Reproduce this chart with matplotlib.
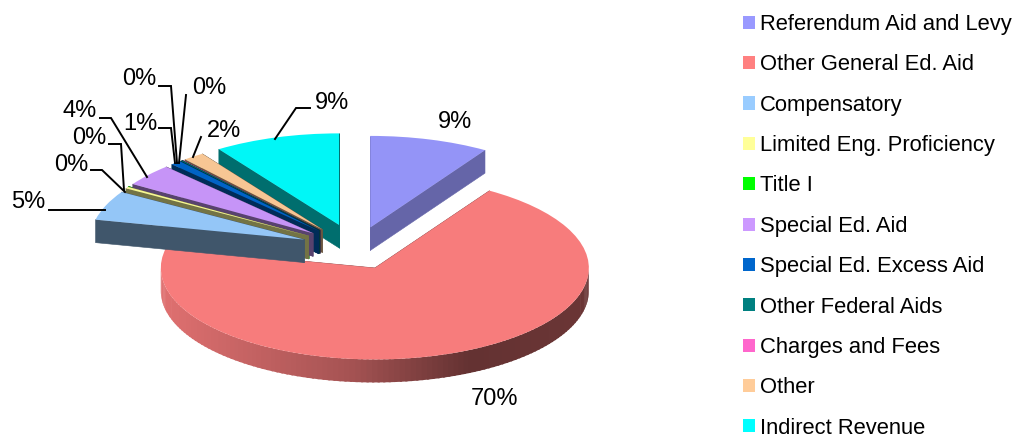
import numpy as np
import matplotlib
matplotlib.use("Agg")
import matplotlib.pyplot as plt
from matplotlib.colors import to_rgb
from matplotlib.patches import Patch, Polygon
from matplotlib.transforms import Affine2D

plt.rcParams["font.family"] = ["Liberation Sans", "DejaVu Sans"]

# Revenue sources and their share of the total, in percent
categories = ["Referendum Aid and Levy", "Other General Ed. Aid", "Compensatory",
              "Limited Eng. Proficiency", "Title I", "Special Ed. Aid",
              "Special Ed. Excess Aid", "Other Federal Aids", "Charges and Fees",
              "Other", "Indirect Revenue"]
shares = [9.0, 69.5, 5.2, 0.3, 0.05, 3.9, 0.8, 0.1, 0.05, 1.61, 9.49]
colors = ["#9999FF", "#FF8080", "#99CCFF", "#FFFF99", "#00FF00", "#CC99FF",
          "#0066CC", "#008080", "#FF66CC", "#FFCC99", "#00FFFF"]

# Slice drawing order, back to front
paint_order = [1, 0, 10, 9, 8, 7, 6, 4, 5, 3, 2]
explode = [0.24, 0.23, 0.26, 0.26, 0.26, 0.26, 0.26, 0.26, 0.26, 0.26, 0.27]
wall_shade = [0.66, 0.55, 0.42, 0.45, 0.45, 0.43, 0.43, 0.43, 0.43, 0.42, 0.43]

W, H = 1017, 436
CX, CY, RX, RY = 356.0, 248.5, 214.0, 91.5   # pie ellipse, pixels
DEPTH = 23.0
LABEL_FONT = 17
LEGEND_FONT = 15.85

fig = plt.figure(figsize=(W / 100, H / 100), dpi=100)
ax = fig.add_axes([0, 0, 1, 1])

face_colors = [tuple(c * 0.97 for c in to_rgb(col)) for col in colors]
wedges, _ = ax.pie(shares, colors=face_colors, startangle=90, counterclock=False,
                   explode=explode, radius=1.0, wedgeprops=dict(linewidth=0))
ax.set_aspect("auto")
ax.set_xlim(0, W)
ax.set_ylim(H, 0)
ax.axis("off")

tilt = Affine2D().scale(RX, -RY).translate(CX, CY) + ax.transData


def to_px(ux, uy):
    return CX + RX * ux, CY - RY * uy


def rim_shade(x):
    # Lighting along the rim: bright at the left, dark past the centre
    stops_x = [160, 350, 470, 590]
    stops_v = [0.88, 0.65, 0.39, 0.42]
    return np.interp(x, stops_x, stops_v)


for rank, i in enumerate(paint_order):
    w = wedges[i]
    w.set_transform(tilt)
    w.set_zorder(10 + 3 * rank + 2)
    rgb = np.array(to_rgb(colors[i]))
    wall = rgb * wall_shade[i]
    cx, cy = w.center
    ax_, ay_ = to_px(cx, cy)

    # Radial side walls
    for th in (w.theta1, w.theta2):
        px, py = to_px(cx + np.cos(np.radians(th)), cy + np.sin(np.radians(th)))
        ax.add_patch(Polygon([(ax_, ay_), (px, py), (px, py + DEPTH), (ax_, ay_ + DEPTH)],
                             closed=True, facecolor=wall, edgecolor=wall, linewidth=0.4,
                             zorder=10 + 3 * rank))

    # Outer rim, only where it faces the viewer; strips overlap to hide seams
    t1, t2 = w.theta1 % 360, w.theta2 % 360
    spans = [(t1, t2)] if t1 <= t2 else [(t1, 360), (0, t2)]
    for a, b in spans:
        a, b = max(a, 180), min(b, 360)
        if b <= a:
            continue
        edges = np.linspace(a, b, int((b - a) / 1.5) + 2)
        for e0, e1 in zip(edges[:-1], edges[1:]):
            arc = np.radians(np.linspace(e0, min(e1 + 0.6, b), 4))
            xs, ys = to_px(cx + np.cos(arc), cy + np.sin(arc))
            top = np.column_stack([xs, ys])
            bottom = np.column_stack([xs, ys + DEPTH])[::-1]
            c = rgb * rim_shade(xs.mean())
            ax.add_patch(Polygon(np.vstack([top, bottom]), closed=True, facecolor=c,
                                 edgecolor="none", linewidth=0, zorder=10 + 3 * rank + 1))

# Percentage labels: text anchor, then the leader polyline (empty when none is needed)
label_layout = [
    ((455, 122), []),
    ((494, 399), []),
    ((28, 202), [(49, 210), (105, 210)]),
    ((71, 165), [(91, 170), (102, 170), (125, 192)]),
    ((89, 138), [(109, 144), (121, 144), (124, 190)]),
    ((80, 111), [(100, 118), (111, 118), (147, 177)]),
    ((140, 124), [(159, 128), (171, 128), (175, 163)]),
    ((139, 79), [(159, 86), (171, 86), (177, 163)]),
    ((209, 88), [(186, 95), (179, 163)]),
    ((224, 131), [(201, 137), (193, 157)]),
    ((332, 103), [(310, 108), (296, 108), (275, 139)]),
]
for value, ((tx, ty), leader) in zip(shares, label_layout):
    ax.text(tx, ty, f"{round(value)}%", fontsize=LABEL_FONT, color="black",
            ha="center", va="center", zorder=60)
    if leader:
        xs, ys = zip(*leader)
        ax.plot(xs, ys, color="black", linewidth=1.4, zorder=60, solid_joinstyle="miter")

handles = [Patch(facecolor=c, edgecolor="none") for c in colors]
ax.legend(handles, categories, loc="upper left", bbox_to_anchor=(743 / W, 1 - 14 / H),
          bbox_transform=fig.transFigure, frameon=False, fontsize=LEGEND_FONT,
          handlelength=0.54, handleheight=0.54, handletextpad=0.23, labelspacing=0.88,
          borderaxespad=0, borderpad=0)

fig.savefig("out.png", dpi=100)
